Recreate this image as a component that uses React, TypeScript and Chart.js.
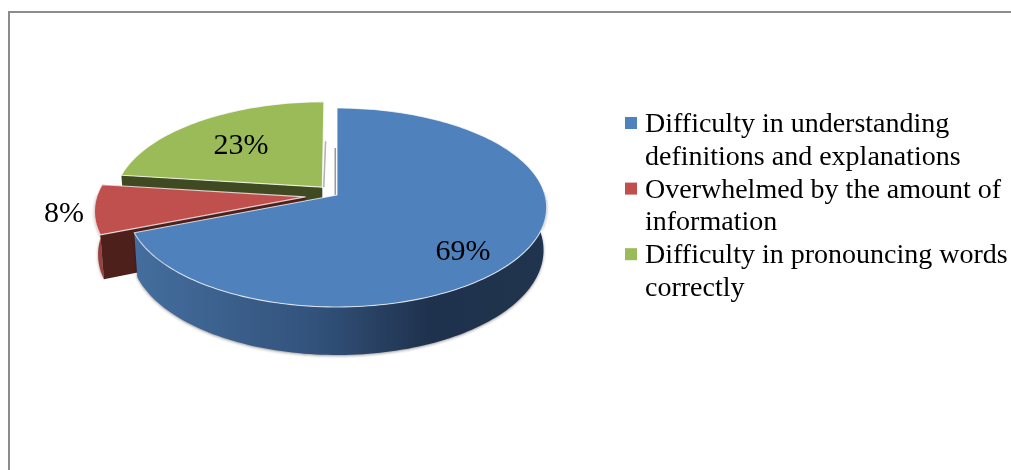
import React, { useEffect, useRef } from "react";
import { Chart, registerables } from "chart.js";

Chart.register(...registerables);

const categories: string[][] = [
  ["Difficulty in understanding", "definitions and explanations"],
  ["Overwhelmed by the amount of", "information"],
  ["Difficulty in pronouncing words", "correctly"],
];
const shares: number[] = [69, 8, 23];
const sliceColors: string[] = ["#4f81bd", "#c0504d", "#9bbb59"];
const faceColors: string[] = ["#1f344e", "#4e201c", "#3f4a22"];
const explodeOffsets: number[] = [0, 32, 22.5];
const labelOffsets: number[][] = [
  [126, 65],
  [-273, 27],
  [-96, -41],
];

const SERIF = '"Liberation Serif", "Times New Roman", serif';
const PERSPECTIVE = 0.1256;
const FLATTEN = 0.4707;

const pie3d = {
  id: "pie3d",
  beforeDraw(chart: any) {
    const { ctx } = chart;
    ctx.save();
    ctx.fillStyle = "#8c8c8c";
    ctx.fillRect(8, 11, 1003, 2);
    ctx.fillRect(8, 11, 2, 459);
    ctx.restore();
  },
  beforeDatasetDraw(chart: any, args: any) {
    const { ctx } = chart;
    const meta = chart.getDatasetMeta(args.index);
    const first = meta.data[0];
    const cx = first.x;
    const cy = first.y;
    const B = first.outerRadius;
    const A = B * FLATTEN;
    const project = (u: number, v: number) => {
      const w = 1 + PERSPECTIVE * v;
      return { x: cx + (B * u) / w, y: cy - (A * v) / w };
    };
    const dropped = (u: number, v: number) => {
      const p = project(u, v);
      return { x: cx + (p.x - cx) * 0.985, y: p.y + (42 - 6 * v) * (B / 208) };
    };
    const poly = (pts: { x: number; y: number }[]) => {
      ctx.beginPath();
      pts.forEach((p, i) => (i ? ctx.lineTo(p.x, p.y) : ctx.moveTo(p.x, p.y)));
      ctx.closePath();
    };

    const order = [2, 1, 0];
    order.forEach((i) => {
      const arc = meta.data[i];
      const t0 = arc.startAngle + Math.PI / 2;
      const t1 = arc.endAngle + Math.PI / 2;
      const mid = (t0 + t1) / 2;
      const e = (arc.options.offset || 0) / B;
      const ou = e * Math.sin(mid);
      const ov = e * Math.cos(mid);
      const rim: number[][] = [];
      const steps = Math.max(8, Math.round((t1 - t0) * 40));
      for (let s = 0; s <= steps; s++) {
        const t = t0 + ((t1 - t0) * s) / steps;
        rim.push([ou + Math.sin(t), ov + Math.cos(t)]);
      }
      const rimTop = rim.map(([u, v]) => project(u, v));
      const rimBottom = rim.map(([u, v]) => dropped(u, v));
      const apexTop = project(ou, ov);
      const apexBottom = dropped(ou, ov);
      const face = faceColors[i];

      // far cut face of the red slice
      if (i === 1) {
        poly([apexTop, rimTop[steps], rimBottom[steps], apexBottom]);
        ctx.fillStyle = face;
        ctx.fill();
      }

      // outer wall: only the near part of the rim can be seen
      const near = rim.map(([, v], k) => (v < 0.05 ? k : -1)).filter((k) => k >= 0);
      if (near.length > 1 && i !== 2) {
        ctx.save();
        ctx.shadowColor = "rgba(0,0,0,0.4)";
        ctx.shadowBlur = 3;
        ctx.shadowOffsetY = 1;
        poly([...near.map((k) => rimTop[k]), ...near.slice().reverse().map((k) => rimBottom[k])]);
        if (i === 0) {
          const g = ctx.createLinearGradient(cx - B, 0, cx + B, 0);
          g.addColorStop(0, "#456f9f");
          g.addColorStop(0.45, "#32527b");
          g.addColorStop(0.72, "#1f324d");
          g.addColorStop(1, "#1f344e");
          ctx.fillStyle = g;
        } else {
          ctx.fillStyle = "#9a403d";
        }
        ctx.fill();
        ctx.restore();
      }

      // near cut face
      if (i !== 0) {
        poly([apexTop, rimTop[0], rimBottom[0], apexBottom]);
        ctx.fillStyle = face;
        ctx.fill();
      }

      // thin grey edge of the faces that look straight along the vertical cut
      ctx.save();
      ctx.lineWidth = 1.6;
      if (i === 0) {
        ctx.strokeStyle = "rgba(120,120,120,0.75)";
        ctx.beginPath();
        ctx.moveTo(rimBottom[0].x - 1.7, rimBottom[0].y + 4);
        ctx.lineTo(apexTop.x - 1.7, apexTop.y);
        ctx.stroke();
      } else if (i === 2) {
        ctx.strokeStyle = "rgba(150,150,150,0.7)";
        ctx.beginPath();
        ctx.moveTo(rimBottom[steps].x + 1.5, rimBottom[steps].y + 4);
        ctx.lineTo(apexTop.x + 1.5, apexTop.y);
        ctx.stroke();
      }
      ctx.restore();

      // top surface
      poly([apexTop, ...rimTop]);
      ctx.fillStyle = arc.options.backgroundColor;
      ctx.fill();
      ctx.strokeStyle = "rgba(255,255,255,0.75)";
      ctx.lineWidth = 1.1;
      ctx.lineJoin = "round";
      ctx.stroke();
    });
    return false;
  },
  afterDraw(chart: any) {
    const { ctx } = chart;
    const meta = chart.getDatasetMeta(0);
    const values = chart.data.datasets[0].data as number[];
    const cx = meta.data[0].x;
    const cy = meta.data[0].y;
    ctx.save();
    ctx.fillStyle = "#000";
    ctx.textBaseline = "alphabetic";
    ctx.font = `30px ${SERIF}`;
    ctx.textAlign = "center";
    values.forEach((v, i) => {
      ctx.fillText(`${v}%`, cx + labelOffsets[i][0], cy + labelOffsets[i][1]);
    });

    ctx.textAlign = "left";
    ctx.font = `28px ${SERIF}`;
    let baseline = 132;
    (chart.data.labels as string[][]).forEach((lines, i) => {
      ctx.fillStyle = sliceColors[i];
      ctx.fillRect(625, baseline - 15, 12, 12);
      ctx.fillStyle = "#000";
      lines.forEach((line) => {
        ctx.fillText(line, 645, baseline);
        baseline += 32.8;
      });
    });
    ctx.restore();
  },
};

export default function App() {
  const ref = useRef<HTMLCanvasElement>(null);
  useEffect(() => {
    if (!ref.current) return;
    const chart = new Chart(ref.current, {
      type: "pie",
      data: {
        labels: categories as any,
        datasets: [
          {
            data: shares,
            backgroundColor: sliceColors,
            offset: explodeOffsets,
            borderWidth: 0,
          } as any,
        ],
      },
      options: {
        responsive: false,
        animation: false,
        radius: 208,
        layout: { padding: { left: 0, right: 337, top: 0, bottom: 80 } },
        plugins: { legend: { display: false }, tooltip: { enabled: false } },
      } as any,
      plugins: [pie3d],
    });
    return () => chart.destroy();
  }, []);
  return (
    <div style={{ position: "absolute", left: 0, top: 0, width: 1011, height: 470, background: "#fff" }}>
      <canvas ref={ref} width={1011} height={470} style={{ display: "block" }} />
    </div>
  );
}
